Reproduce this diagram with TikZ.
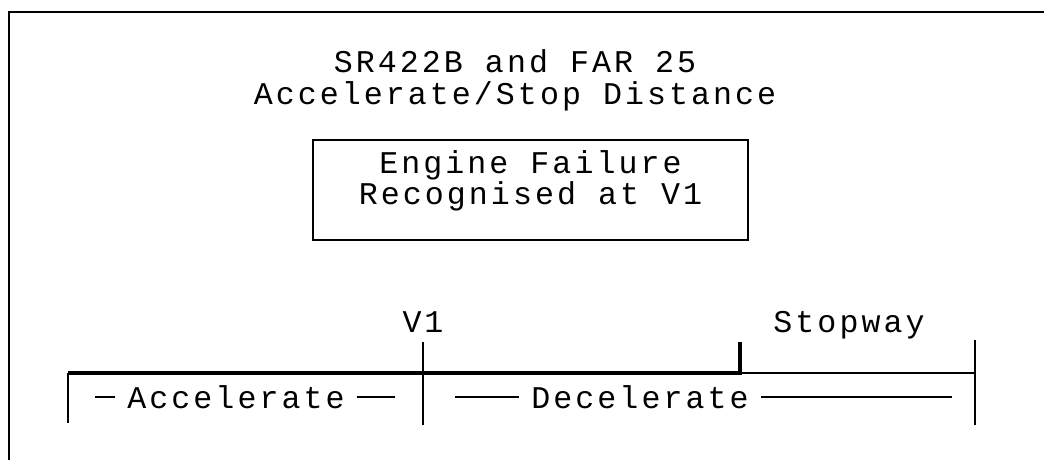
\documentclass[tikz,border=0pt]{standalone}
\usepackage{fontspec}
\setmonofont{Liberation Mono}[LetterSpace=9.6]
\usetikzlibrary{calc,positioning}
\lineskiplimit=-10pt

\begin{document}
\begin{tikzpicture}[lbl/.style={font=\ttfamily\fontsize{9pt}{9.1pt}\selectfont},
  thin line/.style={line width=.55pt},
  runway/.style={line width=1.2pt}]
\useasboundingbox (0,0) rectangle (10.44,4.60);
% frame
\draw[thin line] (10.44,4.48)--(.09,4.48)--(.09,0);
% heading and failure box
\node[lbl,align=center,anchor=base] (title) at (5.15,3.55) {SR422B and FAR 25\\Accelerate/Stop Distance};
\node[lbl,draw,thin line,align=center,minimum width=4.35cm,inner ysep=0pt,text height=.65cm,text depth=.35cm] (fail) at (5.305,2.70) {Engine Failure\\Recognised at V1};
% runway
\coordinate (start) at (.68,.87);
\coordinate (v1pt) at (4.23,.87);
\coordinate (stop) at (7.40,.87);
\coordinate (swend) at (9.75,.87);
\draw[thin line] ($(start)+(0,-.50)$)--(start);
\draw[runway] (start)--(stop)--++(0,.31);
\draw[thin line] (stop)--(swend);
\draw[thin line] ($(v1pt)+(0,.31)$)--++(0,-.83);
\draw[thin line] ($(swend)+(0,.33)$)--++(0,-.85);
\node[lbl,anchor=base] (v1) at (4.23,1.27) {V1};
\node[lbl,anchor=base] (stopway) at (8.49,1.27) {Stopway};
% distances
\node[lbl] (acc) at (2.36,.63) {Accelerate};
\node[lbl] (dec) at (6.40,.63) {Decelerate};
\draw[thin line] (.95,.63)--(acc.west);
\draw[thin line] (acc.east)--(3.95,.63);
\draw[thin line] (4.55,.63)--(dec.west);
\draw[thin line] (dec.east)--(9.52,.63);
\end{tikzpicture}
\end{document}
